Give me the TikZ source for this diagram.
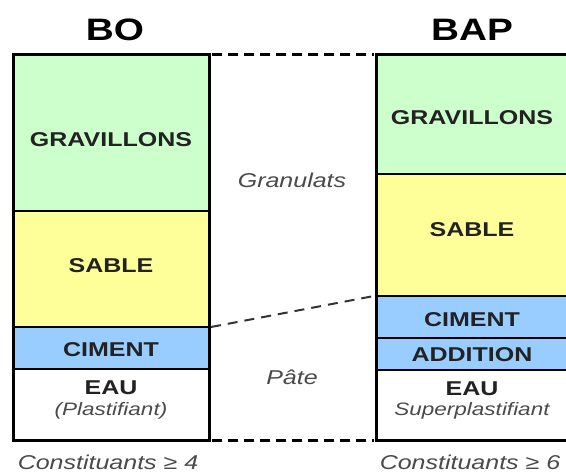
\documentclass[tikz,border=0pt]{standalone}
\usepackage{fontspec}
\usepackage{graphicx}
\setmainfont{Liberation Sans}
\definecolor{grav}{HTML}{CCFFCC}
\definecolor{sab}{HTML}{FFFF99}
\definecolor{cim}{HTML}{99CCFF}
\definecolor{lab}{HTML}{222222}
\definecolor{ital}{HTML}{4A4A4A}
\newcommand{\stretchtxt}[1]{\scalebox{1.25}[1]{#1}}
\tikzset{
  layer/.style={draw=black, line width=1.8pt, inner sep=0pt, minimum width=196pt},
  lbl/.style={font=\fontsize{20}{22}\selectfont\bfseries, text=lab, inner sep=0pt},
  title/.style={font=\fontsize{31}{33}\selectfont\bfseries, text=black, inner sep=0pt},
  itl/.style={font=\fontsize{18}{20}\selectfont\itshape, text=ital, inner sep=0pt},
  mid/.style={font=\fontsize{20}{22}\selectfont\itshape, text=ital, inner sep=0pt},
  frame/.style={draw=black, line width=3pt},
  hdash/.style={draw=black, line width=3pt, dash pattern=on 10pt off 6pt},
  ddash/.style={draw=black!80, line width=2pt, dash pattern=on 10pt off 7pt},
}
\begin{document}
\begin{tikzpicture}[x=1pt,y=-1pt]
\clip (0,0) rectangle (566,474);
\fill[white] (0,0) rectangle (566,474);
% left column BO
\path[fill=grav] (13,54) rectangle (209,211);
\path[fill=sab] (13,211) rectangle (209,327);
\path[fill=cim] (13,327) rectangle (209,369);
\path[fill=white] (13,369) rectangle (209,440);
\draw[line width=1.8pt] (13,211) -- (209,211) (13,327) -- (209,327) (13,369) -- (209,369);
\draw[frame] (13,54) rectangle (209,440);
% right column BAP
\path[fill=grav] (376,54) rectangle (570,174);
\path[fill=sab] (376,174) rectangle (570,296);
\path[fill=cim] (376,296) rectangle (570,370);
\path[fill=white] (376,370) rectangle (570,440);
\draw[line width=1.8pt] (376,174) -- (570,174) (376,296) -- (570,296) (376,338) -- (570,338) (376,370) -- (570,370);
\draw[frame] (376,54) rectangle (570,440);
% coordinates
\coordinate (LT) at (209,54);
\coordinate (RT) at (376,54);
\coordinate (LB) at (209,440);
\coordinate (RB) at (376,440);
\coordinate (LM) at (209,327);
\coordinate (RM) at (376,296);
\draw[hdash] ([xshift=3pt]LT) -- ([xshift=-2pt]RT);
\draw[hdash] ([xshift=3pt]LB) -- ([xshift=-2pt]RB);
\draw[ddash] ([xshift=2pt]LM) -- ([xshift=-2pt]RM);
% titles
\node[title] (bo) at (115,30) {\stretchtxt{BO}};
\node[title] (bap) at (472,30) {\stretchtxt{BAP}};
% left labels
\node[lbl] (gl) at (111,140) {\stretchtxt{GRAVILLONS}};
\node[lbl] (sl) at (111,266) {\stretchtxt{SABLE}};
\node[lbl] (cl) at (111,350) {\stretchtxt{CIMENT}};
\node[lbl] (el) at (111,388) {\stretchtxt{EAU}};
\node[itl] (pl) at (111,411) {\stretchtxt{(Plastifiant)}};
% right labels
\node[lbl] (gr) at (472,118) {\stretchtxt{GRAVILLONS}};
\node[lbl] (sr) at (472,230) {\stretchtxt{SABLE}};
\node[lbl] (cr) at (472,320) {\stretchtxt{CIMENT}};
\node[lbl] (ar) at (472,355) {\stretchtxt{ADDITION}};
\node[lbl] (er) at (472,389) {\stretchtxt{EAU}};
\node[itl] (spr) at (472,411) {\stretchtxt{Superplastifiant}};
% middle
\node[mid] (gran) at (292,180) {\stretchtxt{Granulats}};
\node[mid] (pate) at (292,377) {\stretchtxt{Pâte}};
% bottom
\node[mid] (c4) at (108,462) {\stretchtxt{Constituants ≥ 4}};
\node[mid] (c6) at (470,462) {\stretchtxt{Constituants ≥ 6}};
\end{tikzpicture}
\end{document}
